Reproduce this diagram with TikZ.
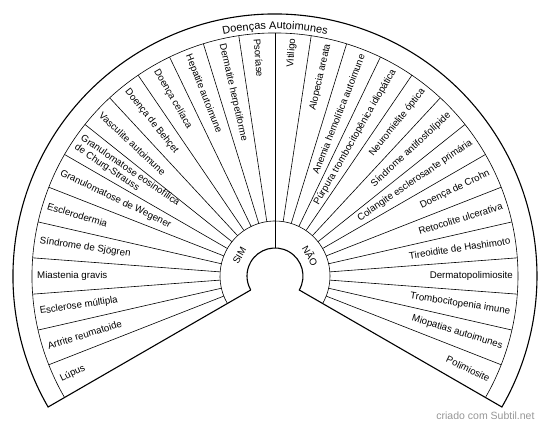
\documentclass[tikz,border=0pt]{standalone}
\usepackage{fontspec}
\setmainfont{Liberation Sans}
\usetikzlibrary{decorations.text}
\definecolor{creditgray}{RGB}{150,150,150}

\tikzset{
  fanline/.style={line width=0.6pt},
  simlabel/.style={anchor=west, inner sep=0pt, align=left, font=\fontsize{9.7}{10.6}\selectfont},
  naolabel/.style={anchor=east, inner sep=0pt, align=right, font=\fontsize{9.7}{10.6}\selectfont},
}

\begin{document}
\begin{tikzpicture}[x=1pt,y=1pt]
    \useasboundingbox (-275,-152) rectangle (275,276);

    % Fan outline
    \draw[line width=1.1pt] (210:28) -- (210:262)
        arc[start angle=210, end angle=-30, radius=262] -- (-30:28)
        arc[start angle=-30, end angle=210, radius=28];

    % Rings
    \draw[fanline] (210:55) arc[start angle=210, end angle=-30, radius=55];
    \draw[fanline] (210:243) arc[start angle=210, end angle=-30, radius=243];

    % Divider and spokes
    \draw[fanline] (90:28) -- (90:243);
    \foreach \i in {1,...,13} {
        \draw[fanline] ({90+\i*120/14}:55) -- ({90+\i*120/14}:243);
        \draw[fanline] ({90-\i*120/14}:55) -- ({90-\i*120/14}:243);
    }

    % Labels
    \foreach \lbl [count=\k] in {Psoríase, Dermatite herpetiforme, Hepatite autoimune,
        Doença celíaca, Doença de Behçet, Vasculite autoimune,
        {Granulomatose eosinofílica\\de Churg-Strauss}, Granulomatose de Wegener,
        Esclerodermia, Síndrome de Sjögren, Miastenia gravis, Esclerose múltipla,
        Artrite reumatoide, Lúpus} {
        \pgfmathsetmacro\ang{90+(\k-0.5)*120/14}
        \node[simlabel, rotate=\ang+180] (sim-\k) at (\ang:238) {\lbl};
    }
    \foreach \lbl [count=\k] in {Vitiligo, Alopecia areata, Anemia hemolítica autoimune,
        Púrpura trombocitopênica idiopática, Neuromielite óptica,
        Síndrome antifosfolípide, Colangite esclerosante primária, Doença de Crohn,
        Retocolite ulcerativa, Tireoidite de Hashimoto, Dermatopolimiosite,
        Trombocitopenia imune, Miopatias autoimunes, Polimiosite} {
        \pgfmathsetmacro\ang{90-(\k-0.5)*120/14}
        \node[naolabel, rotate=\ang] (nao-\k) at (\ang:238) {\lbl};
    }

    \node[rotate=60, font=\fontsize{9.7}{10.6}\selectfont] (sim) at (150:41) {SIM};
    \node[rotate=-60, font=\fontsize{9.7}{10.6}\selectfont] (nao) at (30:41) {NÃO};

    % Title along the outer ring
    \path[decorate, decoration={text along path, text align=center,
        text={|\fontsize{11}{12}\selectfont|Doenças Autoimunes}}]
        (150:247) arc[start angle=150, end angle=30, radius=247];

    \node[anchor=east, text=creditgray, font=\fontsize{10.5}{12}\selectfont] (credit)
        at (263,-140) {criado com Subtil.net};
\end{tikzpicture}
\end{document}
